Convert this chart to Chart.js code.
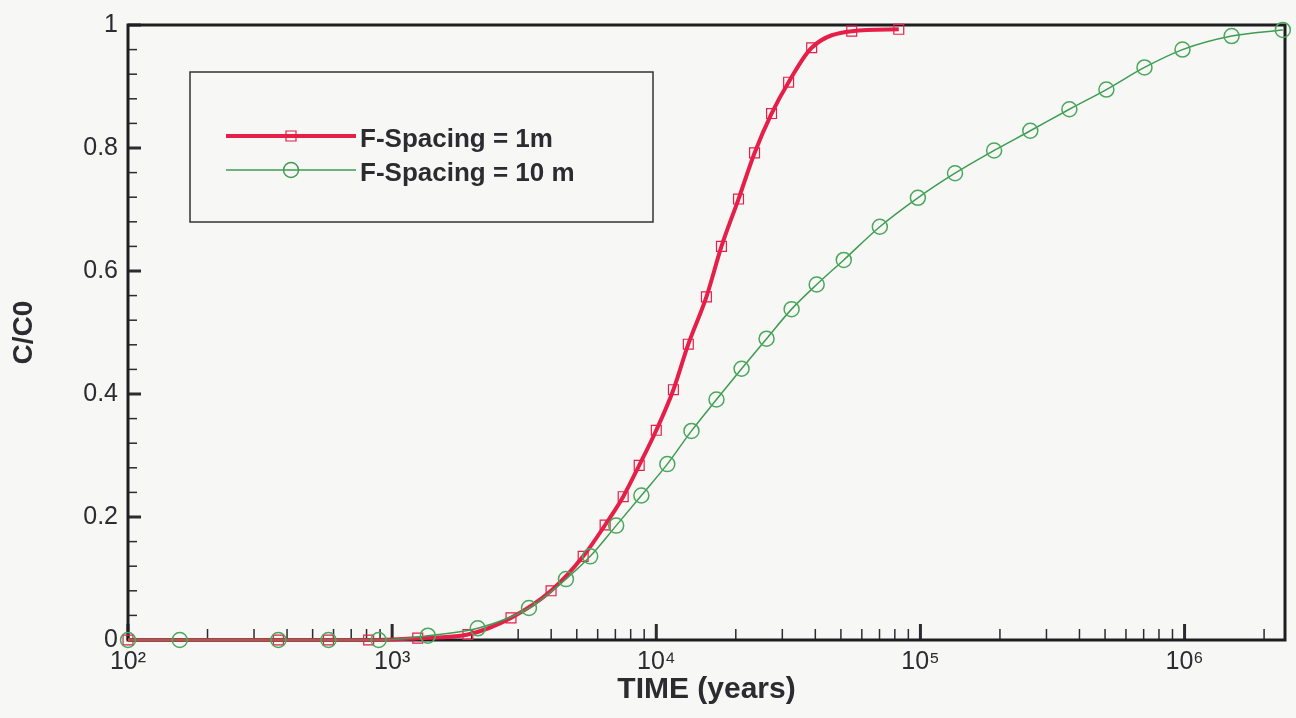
<!DOCTYPE html>
<html>
<head>
<meta charset="utf-8">
<script src="https://cdn.jsdelivr.net/npm/chart.js@4/dist/chart.umd.min.js"></script>
<style>
  html, body { margin: 0; padding: 0; background: #f7f7f5; }
  canvas { display: block; }
</style>
</head>
<body>
<canvas id="btc" width="1296" height="718"></canvas>
<script>
// breakthrough curves, values
const timeRed = [100, 371, 574, 815, 1250, 1936, 2818, 3996, 5287, 6402, 7493, 8616, 10000,
    11610, 13220, 15480, 17650, 20480, 23550, 27310, 31690, 38750, 54950, 82800];
const ccRed = [0, 0, 0, 0, 0.003, 0.009, 0.036, 0.080, 0.136, 0.187, 0.233, 0.284, 0.341,
    0.407, 0.481, 0.558, 0.640, 0.717, 0.792, 0.856, 0.907, 0.963, 0.990, 0.993];

const timeGreen = [100, 157, 371, 574, 889, 1365, 2109, 3296, 4550, 5620, 7050, 8780, 11010,
    13590, 16900, 21030, 26150, 32530, 40480, 51260, 70200, 97800, 135200, 190100, 260600,
    366400, 505900, 705100, 982000, 1507000, 2355000];
const ccGreen = [0, 0, 0, 0, 0, 0.007, 0.019, 0.052, 0.099, 0.136, 0.186, 0.235, 0.286,
    0.340, 0.391, 0.441, 0.490, 0.538, 0.578, 0.618, 0.672, 0.719, 0.759, 0.796, 0.828,
    0.863, 0.895, 0.931, 0.960, 0.982, 0.992];

const seriesNames = ["F-Spacing = 1m", "F-Spacing = 10 m"];

const xMajorTicks = [100, 1000, 10000, 100000, 1000000];
const xTickLabels = ["10²", "10³", "10⁴", "10⁵", "10⁶"];
const yTicks = [0, 0.2, 0.4, 0.6, 0.8, 1];
const yTickLabels = ["0", "0.2", "0.4", "0.6", "0.8", "1"];

const RED = "#e61f48";
const GREEN = "#3e9c52";
const INK = "#2b2b30";

const toPoints = (xs, ys) => xs.map((x, i) => ({ x: x, y: ys[i] }));

// inward ticks + frame, like the original plot
const frameTicks = {
    id: "frameTicks",
    beforeDatasetsDraw(chart) {
        const { ctx, chartArea: a, scales } = chart;
        const xs = scales.x, ys = scales.y;
        ctx.save();
        ctx.strokeStyle = INK;

        // x minor / major
        for (let e = 2; e <= 6; e++) {
            for (let m = 1; m <= 9; m++) {
                const v = m * Math.pow(10, e);
                if (v > xs.max) break;
                const px = xs.getPixelForValue(v);
                const major = m === 1;
                ctx.lineWidth = major ? 3 : 1.5;
                ctx.beginPath();
                ctx.moveTo(px, a.bottom);
                ctx.lineTo(px, a.bottom - (major ? 16 : 11));
                ctx.stroke();
            }
        }
        // y minor / major
        for (let k = 0; k <= 25; k++) {
            const v = k * 0.04;
            const py = ys.getPixelForValue(v);
            const major = k % 5 === 0;
            ctx.lineWidth = major ? 3 : 1.5;
            ctx.beginPath();
            ctx.moveTo(a.left, py);
            ctx.lineTo(a.left + (major ? 13 : 9), py);
            ctx.stroke();
        }

        ctx.lineWidth = 3;
        ctx.strokeStyle = "#1e1e22";
        ctx.strokeRect(a.left, a.top, a.right - a.left, a.bottom - a.top);
        ctx.restore();
    }
};

// boxed legend in the upper left
const boxLegend = {
    id: "boxLegend",
    afterDraw(chart) {
        const ctx = chart.ctx;
        const bx = 190, by = 72, bw = 463, bh = 150;
        ctx.save();
        ctx.strokeStyle = "#333";
        ctx.lineWidth = 1.5;
        ctx.strokeRect(bx, by, bw, bh);

        const rows = [
            { y: 136, color: RED, width: 4, style: "rect" },
            { y: 170, color: GREEN, width: 1.5, style: "circle" }
        ];
        rows.forEach((r, i) => {
            ctx.strokeStyle = r.color;
            ctx.lineWidth = r.width;
            ctx.beginPath();
            ctx.moveTo(226, r.y);
            ctx.lineTo(356, r.y);
            ctx.stroke();
            ctx.lineWidth = i === 0 ? 1.2 : 1.5;
            ctx.beginPath();
            if (r.style === "rect") {
                ctx.rect(291 - 5, r.y - 5, 10, 10);
            } else {
                ctx.arc(291, r.y, 7.5, 0, Math.PI * 2);
            }
            ctx.stroke();

            ctx.fillStyle = INK;
            ctx.font = "bold 26px 'Liberation Sans', Arial, sans-serif";
            ctx.textBaseline = "middle";
            ctx.textAlign = "left";
            ctx.fillText(seriesNames[i], 360, r.y + 4);
        });
        ctx.restore();
    }
};

new Chart(document.getElementById("btc"), {
    type: "line",
    data: {
        datasets: [
            {
                label: seriesNames[0],
                data: toPoints(timeRed, ccRed),
                borderColor: RED,
                borderWidth: 4,
                cubicInterpolationMode: "monotone",
                pointStyle: "rect",
                pointRadius: 7,
                pointBorderWidth: 1.2,
                pointBorderColor: RED,
                pointBackgroundColor: "rgba(0,0,0,0)",
                clip: false,
                order: 1
            },
            {
                label: seriesNames[1],
                data: toPoints(timeGreen, ccGreen),
                borderColor: GREEN,
                borderWidth: 1.5,
                cubicInterpolationMode: "monotone",
                pointStyle: "circle",
                pointRadius: 7.5,
                pointBorderWidth: 1.5,
                pointBorderColor: "#4aa85c",
                pointBackgroundColor: "rgba(0,0,0,0)",
                clip: false,
                order: 0
            }
        ]
    },
    options: {
        responsive: false,
        animation: false,
        layout: { padding: { left: 0, right: 11, top: 24, bottom: 0 } },
        plugins: {
            legend: { display: false },
            tooltip: { enabled: false }
        },
        scales: {
            x: {
                type: "logarithmic",
                min: 100,
                max: 2400000,
                afterBuildTicks: s => { s.ticks = xMajorTicks.map(v => ({ value: v })); },
                afterFit: s => { s.height = 78; },
                grid: { display: false, drawTicks: false },
                border: { display: false },
                ticks: {
                    color: INK,
                    padding: 7,
                    autoSkip: false,
                    maxRotation: 0,
                    font: { family: "'Liberation Sans', Arial, sans-serif", size: 25 },
                    callback: (v) => {
                        const i = xMajorTicks.indexOf(v);
                        return i >= 0 ? xTickLabels[i] : "";
                    }
                },
                title: {
                    display: true,
                    text: "TIME (years)",
                    color: INK,
                    padding: { top: 0, bottom: 10 },
                    font: { family: "'Liberation Sans', Arial, sans-serif", size: 30, weight: "bold" }
                }
            },
            y: {
                min: 0,
                max: 1,
                afterBuildTicks: s => { s.ticks = yTicks.map(v => ({ value: v })); },
                afterFit: s => { s.width = 128; },
                grid: { display: false, drawTicks: false },
                border: { display: false },
                ticks: {
                    color: INK,
                    padding: 10,
                    font: { family: "'Liberation Sans', Arial, sans-serif", size: 25 },
                    callback: (v) => {
                        const i = yTicks.indexOf(v);
                        return i >= 0 ? yTickLabels[i] : "";
                    }
                },
                title: {
                    display: true,
                    text: "C/C0",
                    color: INK,
                    padding: { top: 7, bottom: 0 },
                    font: { family: "'Liberation Sans', Arial, sans-serif", size: 28, weight: "bold" }
                }
            }
        }
    },
    plugins: [frameTicks, boxLegend]
});
</script>
</body>
</html>
